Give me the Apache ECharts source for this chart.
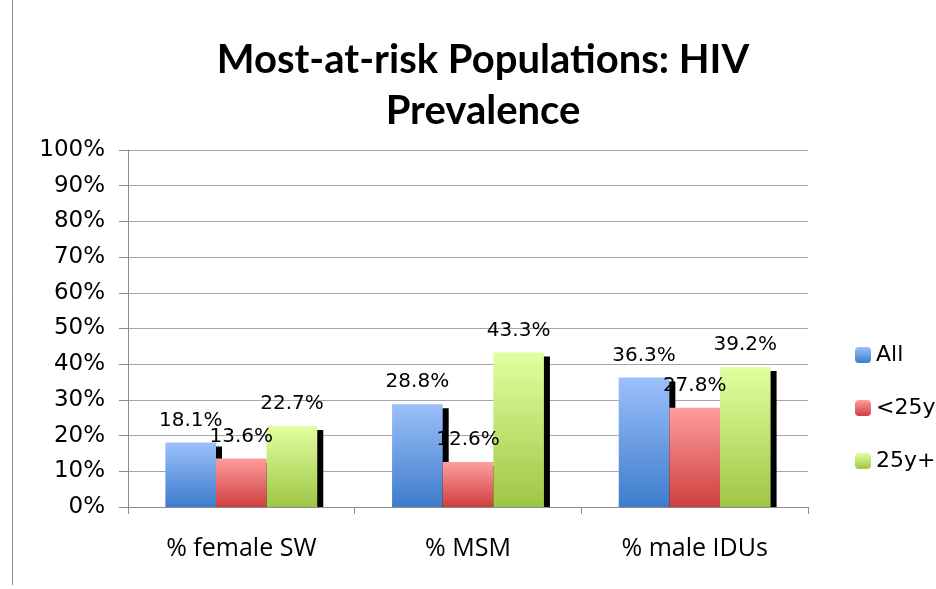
<!DOCTYPE html>
<html>
<head>
<meta charset="utf-8">
<script src="https://cdn.jsdelivr.net/npm/echarts@6/dist/echarts.min.js"></script>
<style>
  html, body { margin: 0; padding: 0; background: #fff; }
  #chart { width: 936px; height: 589px; }
</style>
</head>
<body>
<div id="chart"></div>
<script>
// categories + values
var categories = ['% female SW', '% MSM', '% male IDUs'];
var seriesNames = ['All', '<25y', '25y+'];
var allValues = [18.1, 28.8, 36.3];
var under25Values = [13.6, 12.6, 27.8];
var over25Values = [22.7, 43.3, 39.2];
var yTicks = [0, 10, 20, 30, 40, 50, 60, 70, 80, 90, 100];

function grad(top, bottom) {
    return new echarts.graphic.LinearGradient(0, 0, 0, 1, [
        { offset: 0, color: top },
        { offset: 1, color: bottom }
    ]);
}

var colors = [
    grad('#9cc0fa', '#3d7ccc'),
    grad('#ff9d9d', '#cf3f3f'),
    grad('#e2ffa0', '#9ec645')
];

function makeSeries(name, data, color) {
    return {
        name: name,
        type: 'bar',
        data: data,
        barGap: '0%',
        barCategoryGap: '33%',
        itemStyle: {
            color: color,
            shadowColor: '#000',
            shadowBlur: 0,
            shadowOffsetX: 6,
            shadowOffsetY: 4
        },
        label: {
            show: true,
            position: 'top',
            distance: 12,
            fontFamily: 'DejaVu Sans',
            fontSize: 20,
            color: '#000',
            formatter: function (p) { return p.value.toFixed(1) + '%'; }
        }
    };
}

var myChart = echarts.init(document.getElementById('chart'), null, { renderer: 'canvas' });

var option = {
    animation: false,
    backgroundColor: '#fff',
    title: {
        text: 'Most-at-risk Populations: HIV\nPrevalence',
        left: 478,
        top: 30,
        textAlign: 'center',
        textStyle: {
            fontFamily: 'Lato',
            fontWeight: 'bold',
            fontSize: 40,
            lineHeight: 51,
            color: '#000'
        }
    },
    legend: {
        orient: 'vertical',
        left: 850,
        top: 339,
        itemWidth: 16,
        itemHeight: 16,
        itemGap: 31,
        data: seriesNames,
        textStyle: { fontFamily: 'DejaVu Sans', fontSize: 22, lineHeight: 22, color: '#000' }
    },
    grid: { left: 128, right: 128, top: 150, bottom: 82 },
    xAxis: {
        type: 'category',
        data: categories,
        z: 10,
        axisLine: { lineStyle: { color: '#8c8c8c', width: 1 } },
        axisTick: { show: true, length: 7, lineStyle: { color: '#8c8c8c' } },
        axisLabel: { margin: 29, fontFamily: 'Open Sans', fontSize: 25, color: '#000' }
    },
    yAxis: {
        type: 'value',
        min: yTicks[0],
        max: yTicks[yTicks.length - 1],
        interval: 10,
        axisLine: { show: true, lineStyle: { color: '#8c8c8c', width: 1 } },
        axisTick: { show: true, length: 9, lineStyle: { color: '#8c8c8c' } },
        splitLine: { lineStyle: { color: '#a6a6a6', width: 1 } },
        axisLabel: {
            margin: 23,
            fontFamily: 'DejaVu Sans',
            fontSize: 23,
            color: '#000',
            formatter: '{value}%'
        }
    },
    graphic: [{
        type: 'line',
        shape: { x1: 12.5, y1: 0, x2: 12.5, y2: 585 },
        style: { stroke: '#8c8c8c', lineWidth: 1 }
    }, {
        // hide the part of the bar shadows that falls under the axis
        type: 'rect',
        z: 5,
        shape: { x: 130, y: 508, width: 676, height: 8 },
        style: { fill: '#fff' }
    }],
    series: [
        makeSeries(seriesNames[0], allValues, colors[0]),
        makeSeries(seriesNames[1], under25Values, colors[1]),
        makeSeries(seriesNames[2], over25Values, colors[2])
    ]
};

myChart.setOption(option);
</script>
</body>
</html>
